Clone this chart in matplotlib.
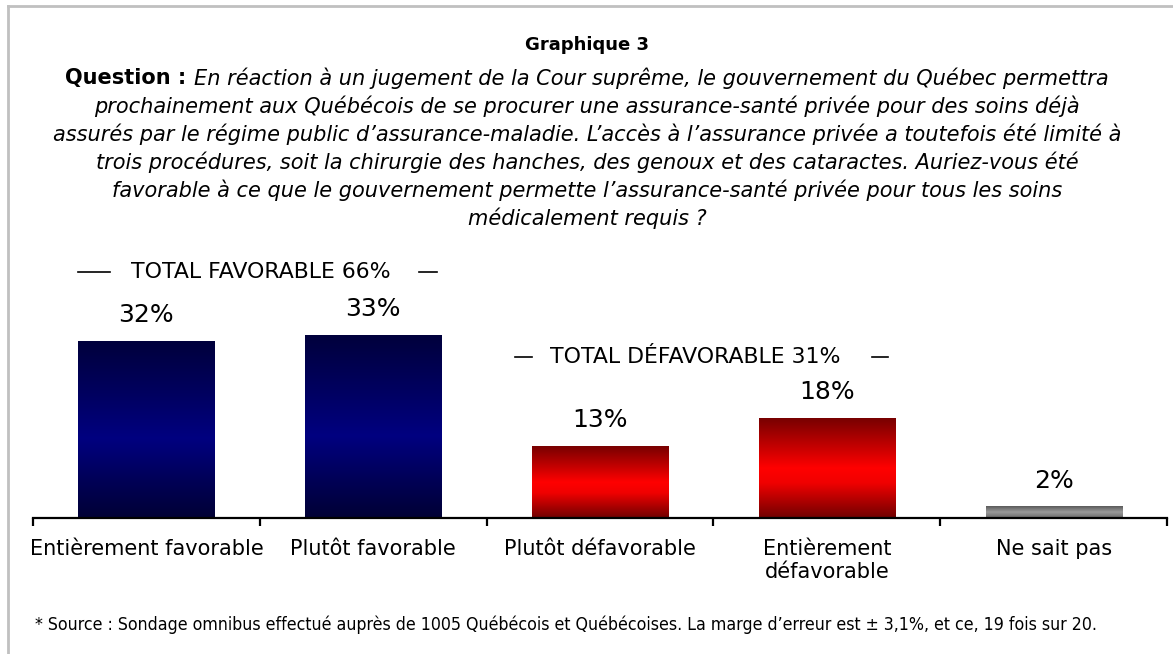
import numpy as np
from matplotlib import pyplot as plt
from matplotlib.colors import LinearSegmentedColormap
from matplotlib.lines import Line2D

plt.rcParams.update({
    'font.family': 'DejaVu Sans',
    'font.size': 13,
})

# data
categories = ['Entièrement favorable', 'Plutôt favorable', 'Plutôt défavorable',
              'Entièrement\ndéfavorable', 'Ne sait pas']
values = [32, 33, 13, 18, 2]
value_labels = ['32%', '33%', '13%', '18%', '2%']
groups = ['blue', 'blue', 'red', 'red', 'gray']
total_fav = 'TOTAL FAVORABLE 66%'
total_def = 'TOTAL DÉFAVORABLE 31%'

title = 'Graphique 3'
question_lead = 'Question :'
question_lines = [
    'En réaction à un jugement de la Cour suprême, le gouvernement du Québec permettra',
    'prochainement aux Québécois de se procurer une assurance-santé privée pour des soins déjà',
    'assurés par le régime public d\u2019assurance-maladie. L\u2019accès à l\u2019assurance privée a toutefois été limité à',
    'trois procédures, soit la chirurgie des hanches, des genoux et des cataractes. Auriez-vous été',
    'favorable à ce que le gouvernement permette l\u2019assurance-santé privée pour tous les soins',
    'médicalement requis ?',
]
footnote = ("* Source : Sondage omnibus effectué auprès de 1005 Québécois et Québécoises. "
            "La marge d\u2019erreur est \u00b1 3,1%, et ce, 19 fois sur 20.")

cmaps = {
    'blue': LinearSegmentedColormap.from_list('b', [(0, '#00003c'), (0.3, '#000060'), (0.55, '#000080'),
                                                    (0.8, '#000055'), (1, '#000035')]),
    'red': LinearSegmentedColormap.from_list('r', [(0, '#780000'), (0.3, '#c80000'), (0.5, '#ff0000'),
                                                   (0.65, '#f00000'), (1, '#700000')]),
    'gray': LinearSegmentedColormap.from_list('g', [(0, '#5a5a5a'), (0.5, '#9a9a9a'), (1, '#6a6a6a')]),
}

W, H = 1173, 654
fig = plt.figure(figsize=(W / 100, H / 100), dpi=100)

def fx(px):
    return px / W

def fy(py):
    return 1 - py / H

ax_left, ax_right, ax_base, ymax = 33, 1167, 518, 50
px_per_pct = 5.53
ax = fig.add_axes([fx(ax_left), fy(ax_base), fx(ax_right - ax_left), ymax * px_per_pct / H])

x = np.arange(len(categories))
bars = ax.bar(x, values, width=0.6, color='none', edgecolor='none')
grad = np.linspace(0, 1, 256).reshape(-1, 1)
for b, g in zip(bars, groups):
    x0, y0 = b.get_x(), b.get_y()
    ax.imshow(grad, extent=[x0, x0 + b.get_width(), y0, y0 + b.get_height()],
              cmap=cmaps[g], aspect='auto', origin='upper', interpolation='bilinear', zorder=2)

for b, lab in zip(bars, value_labels):
    ax.annotate(lab, (b.get_x() + b.get_width() / 2, b.get_height()), xytext=(0, 19),
                textcoords='offset points', ha='center', va='center', fontsize=18)

# group totals
ax.text(0.505, 44.5, total_fav, ha='center', va='center', fontsize=15.8)
ax.plot([-0.30, -0.16], [44.5, 44.5], color='black', lw=1.2)
ax.plot([1.20, 1.28], [44.5, 44.5], color='black', lw=1.2)
ax.text(2.42, 29.1, total_def, ha='center', va='center', fontsize=15.8)
ax.plot([1.625, 1.70], [29.1, 29.1], color='black', lw=1.2)
ax.plot([3.20, 3.27], [29.1, 29.1], color='black', lw=1.2)

ax.set_xlim(-0.5, len(categories) - 0.5)
ax.set_ylim(0, ymax)
for s in ['top', 'right', 'left']:
    ax.spines[s].set_visible(False)
ax.spines['bottom'].set_linewidth(1.6)
ax.set_yticks([])
ax.set_xticks(np.arange(len(categories) + 1) - 0.5)
ax.set_xticklabels([])
ax.tick_params(axis='x', which='major', length=6, width=1.6, direction='out')
ax.set_xticks(x, minor=True)
ax.set_xticklabels(categories, minor=True, fontsize=15)
ax.tick_params(axis='x', which='minor', length=0, pad=15)

# header
fig.text(fx(587), fy(45), title, ha='center', va='center', fontsize=13, fontweight='bold')
qsize = 15
t_lead = fig.text(0, fy(78), question_lead + ' ', ha='left', va='center', fontsize=qsize, fontweight='bold')
t_first = fig.text(0, fy(78), question_lines[0], ha='left', va='center', fontsize=qsize, style='italic')
fig.canvas.draw()
r = fig.canvas.get_renderer()
w_lead = t_lead.get_window_extent(r).width
w_first = t_first.get_window_extent(r).width
start = 587 - (w_lead + w_first) / 2
t_lead.set_x(fx(start))
t_first.set_x(fx(start + w_lead))
for i, line in enumerate(question_lines[1:], start=1):
    fig.text(fx(587), fy(78 + i * 28), line, ha='center', va='center', fontsize=qsize, style='italic')

fig.text(fx(35), fy(625), footnote, ha='left', va='center', fontsize=12.7, fontstretch='condensed')

# frame
fig.add_artist(Line2D([fx(8), 1], [fy(6), fy(6)], color='#c0c0c0', lw=2))
fig.add_artist(Line2D([fx(8), fx(8)], [0, fy(6)], color='#c0c0c0', lw=2))

fig.savefig('out.png', dpi=100)
